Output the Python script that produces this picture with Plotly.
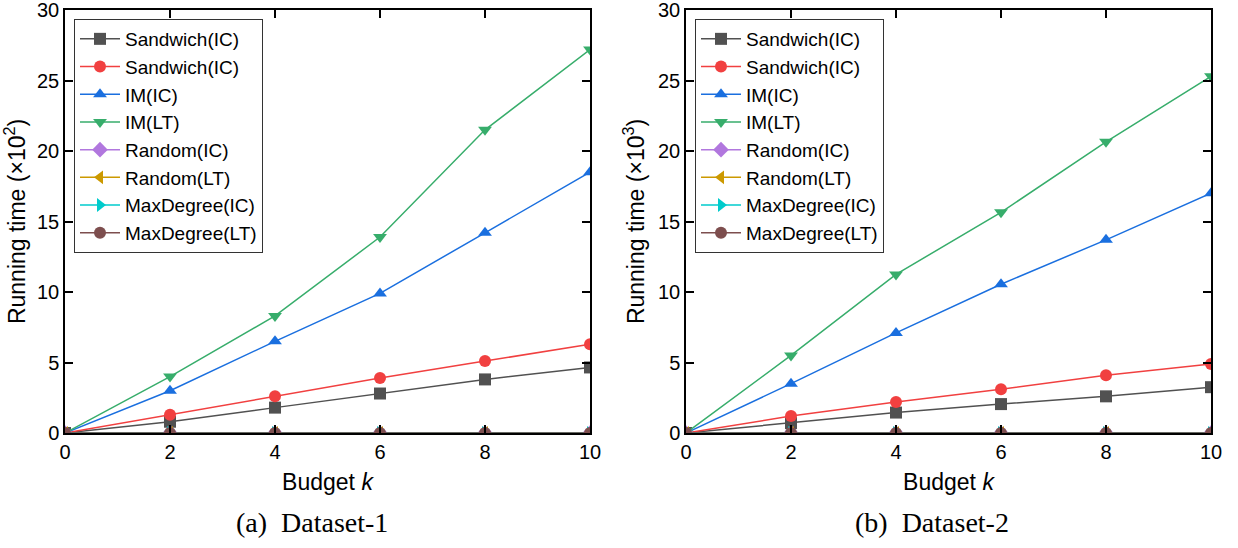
import plotly.graph_objects as go

budget_k = [0, 2, 4, 6, 8, 10]
series_names = ["Sandwich(IC)", "Sandwich(IC)", "IM(IC)", "IM(LT)",
                "Random(IC)", "Random(LT)", "MaxDegree(IC)", "MaxDegree(LT)"]

# Dataset-1, running time (x10^2)
d1_sandwich_a = [0, 0.8, 1.8, 2.8, 3.8, 4.65]
d1_sandwich_b = [0, 1.3, 2.6, 3.9, 5.1, 6.3]
d1_im_ic = [0, 3.0, 6.5, 9.9, 14.2, 18.5]
d1_im_lt = [0, 4.0, 8.3, 13.9, 21.5, 27.2]
d1_random_ic = [0, 0, 0, 0, 0, 0]
d1_random_lt = [0, 0, 0, 0, 0, 0]
d1_maxdeg_ic = [0, 0, 0, 0, 0, 0]
d1_maxdeg_lt = [0, 0, 0, 0, 0, 0]

# Dataset-2, running time (x10^3)
d2_sandwich_a = [0, 0.7, 1.45, 2.05, 2.6, 3.25]
d2_sandwich_b = [0, 1.2, 2.2, 3.1, 4.1, 4.9]
d2_im_ic = [0, 3.5, 7.1, 10.55, 13.7, 17.0]
d2_im_lt = [0, 5.5, 11.25, 15.65, 20.65, 25.3]
d2_random_ic = [0, 0, 0, 0, 0, 0]
d2_random_lt = [0, 0, 0, 0, 0, 0]
d2_maxdeg_ic = [0, 0, 0, 0, 0, 0]
d2_maxdeg_lt = [0, 0, 0, 0, 0, 0]

x_ticks = [0, 2, 4, 6, 8, 10]
y_ticks = [0, 5, 10, 15, 20, 25, 30]

colors = ["#515151", "#F14040", "#1A6FDF", "#37AD6B",
          "#B177DE", "#CC9900", "#00CBCC", "#7D4E4E"]
symbols = ["square", "circle", "triangle-up", "triangle-down",
           "diamond", "triangle-left", "triangle-right", "circle"]

d1 = [d1_sandwich_a, d1_sandwich_b, d1_im_ic, d1_im_lt,
      d1_random_ic, d1_random_lt, d1_maxdeg_ic, d1_maxdeg_lt]
d2 = [d2_sandwich_a, d2_sandwich_b, d2_im_ic, d2_im_lt,
      d2_random_ic, d2_random_lt, d2_maxdeg_ic, d2_maxdeg_lt]

FONT = "Liberation Sans, Arial, sans-serif"
SERIF = "Liberation Serif, DejaVu Serif, serif"
fig = go.Figure()

for i, name in enumerate(series_names):
    fig.add_trace(go.Scatter(
        x=budget_k, y=d1[i], name=name, mode="lines+markers",
        line=dict(color=colors[i], width=1.5),
        marker=dict(symbol=symbols[i], size=12, color=colors[i]),
        xaxis="x", yaxis="y", legend="legend"))
for i, name in enumerate(series_names):
    fig.add_trace(go.Scatter(
        x=budget_k, y=d2[i], name=name, mode="lines+markers",
        line=dict(color=colors[i], width=1.5),
        marker=dict(symbol=symbols[i], size=12, color=colors[i]),
        xaxis="x2", yaxis="y2", legend="legend2"))

W, H = 1238, 548
def px(x):
    return x / W
def py(y):
    return (H - y) / H

axis_common = dict(
    showline=True, linecolor="black", linewidth=1.5, mirror="ticks",
    ticks="inside", ticklen=8, tickwidth=1.5, tickcolor="black",
    showgrid=False, zeroline=False, automargin=False,
    ticklabeloverflow="allow",
    tickfont=dict(family=FONT, size=20, color="black"),
)
title_font = dict(family=FONT, size=23, color="black")

legend_common = dict(
    xanchor="left", yanchor="top",
    bgcolor="white", bordercolor="#333333", borderwidth=1,
    font=dict(family=FONT, size=19, color="black"),
    tracegroupgap=0, itemwidth=40,
)

fig.update_layout(
    width=W, height=H,
    margin=dict(l=0, r=0, t=0, b=0),
    paper_bgcolor="white", plot_bgcolor="white",
    showlegend=True,
    xaxis=dict(domain=[px(65), px(590)], range=[0, 10], tickvals=x_ticks,
               anchor="y",
               title=dict(text="Budget <i>k</i>", font=title_font, standoff=12),
               **axis_common),
    yaxis=dict(domain=[py(433), py(10)], range=[0, 30], tickvals=y_ticks,
               anchor="x",
               title=dict(text="Running time (×10<sup>2</sup>)", font=title_font, standoff=7),
               **axis_common),
    xaxis2=dict(domain=[px(686), px(1211)], range=[0, 10], tickvals=x_ticks,
                anchor="y2",
                title=dict(text="Budget <i>k</i>", font=title_font, standoff=12),
                **axis_common),
    yaxis2=dict(domain=[py(433), py(10)], range=[0, 30], tickvals=y_ticks,
                anchor="x2",
                title=dict(text="Running time (×10<sup>3</sup>)", font=title_font, standoff=7),
                **axis_common),
    legend=dict(x=px(74), y=py(19), **legend_common),
    legend2=dict(x=px(695), y=py(19), **legend_common),
    annotations=[
        dict(text="(a)  Dataset-1", x=px(312), y=py(522), xref="paper", yref="paper",
             xanchor="center", yanchor="middle",
             showarrow=False, font=dict(family=SERIF, size=28, color="black")),
        dict(text="(b)  Dataset-2", x=px(932), y=py(522), xref="paper", yref="paper",
             xanchor="center", yanchor="middle",
             showarrow=False, font=dict(family=SERIF, size=28, color="black")),
    ],
)

fig.write_html("out.html")
